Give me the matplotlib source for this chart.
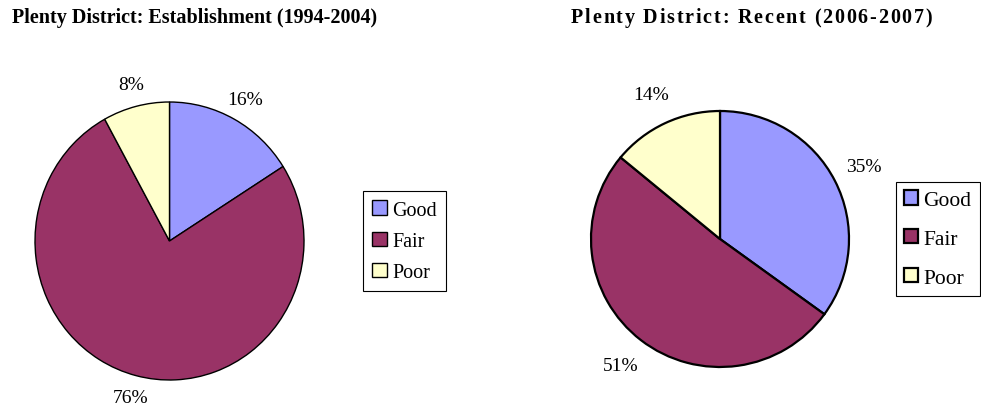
import matplotlib.pyplot as plt
from matplotlib import font_manager
from matplotlib.ft2font import FT2Font

plt.rcParams['font.family'] = ['Liberation Serif', 'DejaVu Serif']

categories = ['Good', 'Fair', 'Poor']
establishment = [16, 76, 8]
recent = [35, 51, 14]
colors = ['#9999FF', '#993366', '#FFFFCC']

title_left = 'Plenty District: Establishment (1994-2004)'
title_right = 'Plenty District: Recent (2006-2007)'

W, H = 981, 410
fig = plt.figure(figsize=(W / 100, H / 100), dpi=100)


def px_axes(x0, y0, x1, y1):
    # axes placed by pixel box (top-left origin)
    return fig.add_axes([x0 / W, 1 - y1 / H, (x1 - x0) / W, (y1 - y0) / H])


def spaced_title(x0, y, s, target_w, size):
    # the right title is letter-spaced in the original, so lay it out glyph by glyph
    fp = font_manager.FontProperties(family='Liberation Serif', weight='bold', size=size)
    ft = FT2Font(font_manager.findfont(fp))
    ft.set_size(size, 100)
    adv = [ft.load_char(ord(c)).linearHoriAdvance / 65536 for c in s]
    extra = (target_w - sum(adv)) / (len(s) - 1)
    x = x0
    for c, a in zip(s, adv):
        fig.text(x / W, 1 - y / H, c, fontproperties=fp, va='center', ha='left')
        x += a + extra


# left pie (slightly taller than wide, as in the original)
ax1 = px_axes(35, 103, 304, 381)
w1, _, _ = ax1.pie(establishment, colors=colors, startangle=90, counterclock=False,
                   autopct='%1.0f%%', pctdistance=1.16,
                   wedgeprops=dict(edgecolor='black', linewidth=1.0),
                   textprops=dict(fontsize=14))
ax1.set_aspect('auto')
ax1.set_xlim(-1, 1)
ax1.set_ylim(-1, 1)

# right pie
ax2 = px_axes(591, 112, 849, 368)
w2, _, _ = ax2.pie(recent, colors=colors, startangle=90, counterclock=False,
                   autopct='%1.0f%%', pctdistance=1.25,
                   wedgeprops=dict(edgecolor='black', linewidth=1.6),
                   textprops=dict(fontsize=14))
ax2.set_aspect('auto')
ax2.set_xlim(-1, 1)
ax2.set_ylim(-1, 1)

fig.text(12 / W, 1 - 18 / H, title_left, fontsize=14.5, fontweight='bold',
         va='center', ha='left')
spaced_title(571, 18, title_right, 361, 14.5)

leg1 = fig.legend(w1, categories, loc='upper left', bbox_to_anchor=(363 / W, 1 - 192 / H),
                  borderaxespad=0, fancybox=False, fontsize=14.5, labelspacing=0.6,
                  handlelength=0.7, handleheight=0.7, handletextpad=0.28,
                  borderpad=0.47, framealpha=1)
leg1.get_frame().set_edgecolor('black')
leg1.get_frame().set_linewidth(0.8)

leg2 = fig.legend(w2, categories, loc='upper left', bbox_to_anchor=(896 / W, 1 - 183 / H),
                  borderaxespad=0, fancybox=False, fontsize=15.5, labelspacing=0.89,
                  handlelength=0.65, handleheight=0.65, handletextpad=0.25,
                  borderpad=0.38, framealpha=1)
leg2.get_frame().set_edgecolor('black')
leg2.get_frame().set_linewidth(0.8)

fig.savefig('out.png', dpi=100)
